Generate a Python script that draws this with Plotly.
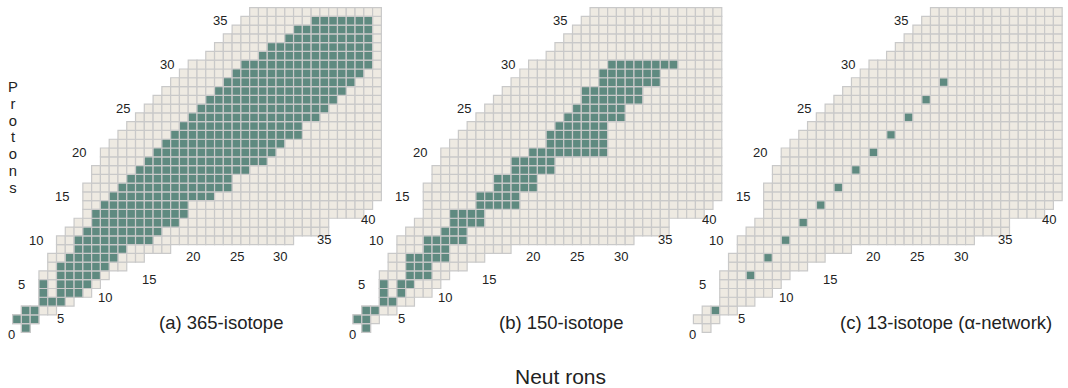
import plotly.graph_objects as go

# ------------------------------------------------------------------ data
# background chart of nuclides: for each proton number Z, the neutron range shown
PROTON_Z = [0, 1, 2, 3, 4, 5, 6, 7, 8, 9, 10, 11, 12, 13, 14, 15, 16, 17, 18,
            19, 20, 21, 22, 23, 24, 25, 26, 27, 28, 29, 30, 31, 32, 33, 34, 35, 36]
N_MIN = [1, 0, 1, 3, 3, 3, 3, 4, 4, 5, 5, 6, 7, 8, 8, 8, 8, 9, 9,
         10, 10, 11, 12, 13, 14, 15, 16, 17, 18, 19, 20, 22, 23, 24, 25, 26, 27]
N_MAX = [1, 2, 4, 6, 8, 9, 10, 12, 14, 17, 31, 35, 35, 39, 40, 41, 41, 41, 41,
         41, 41, 41, 41, 41, 41, 41, 41, 41, 41, 41, 41, 41, 41, 41, 41, 41, 41]

# (a) 365-isotope network: segments (Z, first N, last N)
A_SEG_Z = [0, 1, 2, 3, 4, 4, 5, 5, 6, 7, 8, 9, 10, 11, 12, 13, 14, 15, 16, 17,
           18, 19, 20, 21, 22, 23, 24, 25, 26, 27, 28, 29, 30, 31, 32, 33, 34, 35]
A_SEG_LO = [1, 0, 1, 3, 3, 5, 3, 5, 5, 5, 6, 7, 7, 8, 9, 9, 10, 11, 12, 13,
            14, 15, 16, 17, 18, 19, 20, 21, 22, 23, 24, 25, 26, 28, 29, 31, 32, 34]
A_SEG_HI = [1, 2, 2, 5, 3, 7, 3, 8, 9, 10, 11, 12, 15, 16, 18, 19, 19, 22, 24, 24,
            26, 28, 29, 30, 32, 32, 34, 35, 36, 37, 38, 39, 40, 40, 40, 40, 40, 40]

# (b) 150-isotope network
B_SEG_Z = [0, 1, 2, 3, 4, 4, 5, 5, 6, 7, 8, 9, 10, 11, 12, 13, 14, 15, 16, 17,
           18, 19, 20, 21, 22, 23, 24, 25, 26, 27, 28, 29, 30]
B_SEG_LO = [1, 0, 1, 3, 3, 5, 3, 5, 6, 6, 6, 8, 8, 10, 11, 11, 14, 14, 16, 16,
            18, 18, 20, 22, 22, 23, 24, 25, 26, 26, 28, 28, 29]
B_SEG_HI = [1, 1, 2, 4, 3, 5, 3, 6, 8, 8, 10, 10, 12, 12, 14, 14, 18, 18, 20, 20,
            22, 22, 28, 28, 28, 28, 30, 30, 32, 32, 34, 34, 36]

# (c) 13-isotope alpha network
C_ALPHA_Z = [2, 6, 8, 10, 12, 14, 16, 18, 20, 22, 24, 26, 28]
C_ALPHA_N = [2, 6, 8, 10, 12, 14, 16, 18, 20, 22, 24, 26, 28]

PANEL_TITLES = ["(a) 365-isotope", "(b) 150-isotope", "(c) 13-isotope (\u03b1-network)"]
PROTON_TICKS = [0, 5, 10, 15, 20, 25, 30, 35]
NEUTRON_TICKS = [5, 10, 15, 20, 25, 30, 35, 40]

# ------------------------------------------------------------------ layout constants
W, H = 1068, 388
CELL = 8.78                      # px per nucleus
X0 = -17 / CELL                  # data x at left pixel
Y1 = 328 / CELL                  # data y at top pixel
PANEL_SHIFT = 340.4 / CELL       # horizontal offset between panels (data units)
NEUTRON_LABEL_ROW = [1.1, 3.5, 5.5, 8.1, 8.1, 8.1, 10.1, 12.4]

BEIGE = "#eeeae2"
TEAL = "#5f8a80"
GRID = "#c9c9c9"
TXT = "#222222"
FONT = "Liberation Sans, Arial, sans-serif"


def px2x(px):
    return X0 + px / CELL


def px2y(py):
    return Y1 - py / CELL


# build cell lists
bg_n, bg_z = [], []
for z, lo, hi in zip(PROTON_Z, N_MIN, N_MAX):
    for n in range(lo, hi + 1):
        bg_n.append(n)
        bg_z.append(z)


def expand(zs, los, his):
    nn, zz = [], []
    for z, lo, hi in zip(zs, los, his):
        for n in range(lo, hi + 1):
            nn.append(n)
            zz.append(z)
    return nn, zz


a_n, a_z = expand(A_SEG_Z, A_SEG_LO, A_SEG_HI)
b_n, b_z = expand(B_SEG_Z, B_SEG_LO, B_SEG_HI)
sel = [(a_n, a_z), (b_n, b_z), (C_ALPHA_N, C_ALPHA_Z)]

fig = go.Figure()
for p in range(3):
    off = p * PANEL_SHIFT
    fig.add_trace(go.Scatter(
        x=[n + off for n in bg_n], y=bg_z, mode="markers", hoverinfo="skip",
        marker=dict(symbol="square", size=CELL, color=BEIGE,
                    line=dict(color=GRID, width=1.2))))
    sn, sz = sel[p]
    if p < 2:
        mk = dict(symbol="square", size=CELL, color=TEAL,
                  line=dict(color=GRID, width=1.2))
    else:
        mk = dict(symbol="square", size=CELL - 1.4, color=TEAL,
                  line=dict(width=0))
    fig.add_trace(go.Scatter(
        x=[n + off for n in sn], y=sz, mode="markers", hoverinfo="skip", marker=mk))

annotations = []
tick_font = dict(family=FONT, size=13, color=TXT)
for p in range(3):
    off = p * PANEL_SHIFT
    # proton labels
    for z in PROTON_TICKS:
        if z == 0:
            annotations.append(dict(x=-0.6 + off, y=-0.7, text="0", showarrow=False,
                                    xanchor="center", yanchor="middle", font=tick_font))
        else:
            annotations.append(dict(x=N_MIN[z] - 0.5 + off, y=z, text=str(z),
                                    showarrow=False, xanchor="right", yanchor="middle",
                                    xshift=-12, font=tick_font))
    # neutron labels
    for n, row in zip(NEUTRON_TICKS, NEUTRON_LABEL_ROW):
        annotations.append(dict(x=n + off, y=row, text=str(n), showarrow=False,
                                xanchor="center", yanchor="middle", font=tick_font))
    # panel caption
    annotations.append(dict(x=px2x(157) + off, y=px2y(322), text=PANEL_TITLES[p],
                            showarrow=False, xanchor="left", yanchor="middle",
                            font=dict(family=FONT, size=18.5, color=TXT)))

# axis titles: stacked letters, tight line spacing (base font sets line pitch 16.7 px)
stack = "<br>".join('<span style="font-size:14.8px">%s</span>' % ch for ch in "Protons")
annotations.append(dict(x=px2x(13), y=px2y(137), text=stack, showarrow=False,
                        xanchor="center", yanchor="middle", align="center",
                        font=dict(family=FONT, size=16.8 / 1.3, color=TXT)))
annotations.append(dict(x=px2x(513), y=px2y(376), text="Neut rons", showarrow=False,
                        xanchor="left", yanchor="middle",
                        font=dict(family=FONT, size=21, color=TXT)))

fig.update_layout(
    width=W, height=H, margin=dict(l=0, r=0, t=0, b=0),
    paper_bgcolor="white", plot_bgcolor="white", showlegend=False,
    xaxis=dict(range=[X0, X0 + W / CELL], visible=False, fixedrange=True),
    yaxis=dict(range=[Y1 - H / CELL, Y1], visible=False, fixedrange=True),
    annotations=annotations,
)
fig.write_html("out.html")
